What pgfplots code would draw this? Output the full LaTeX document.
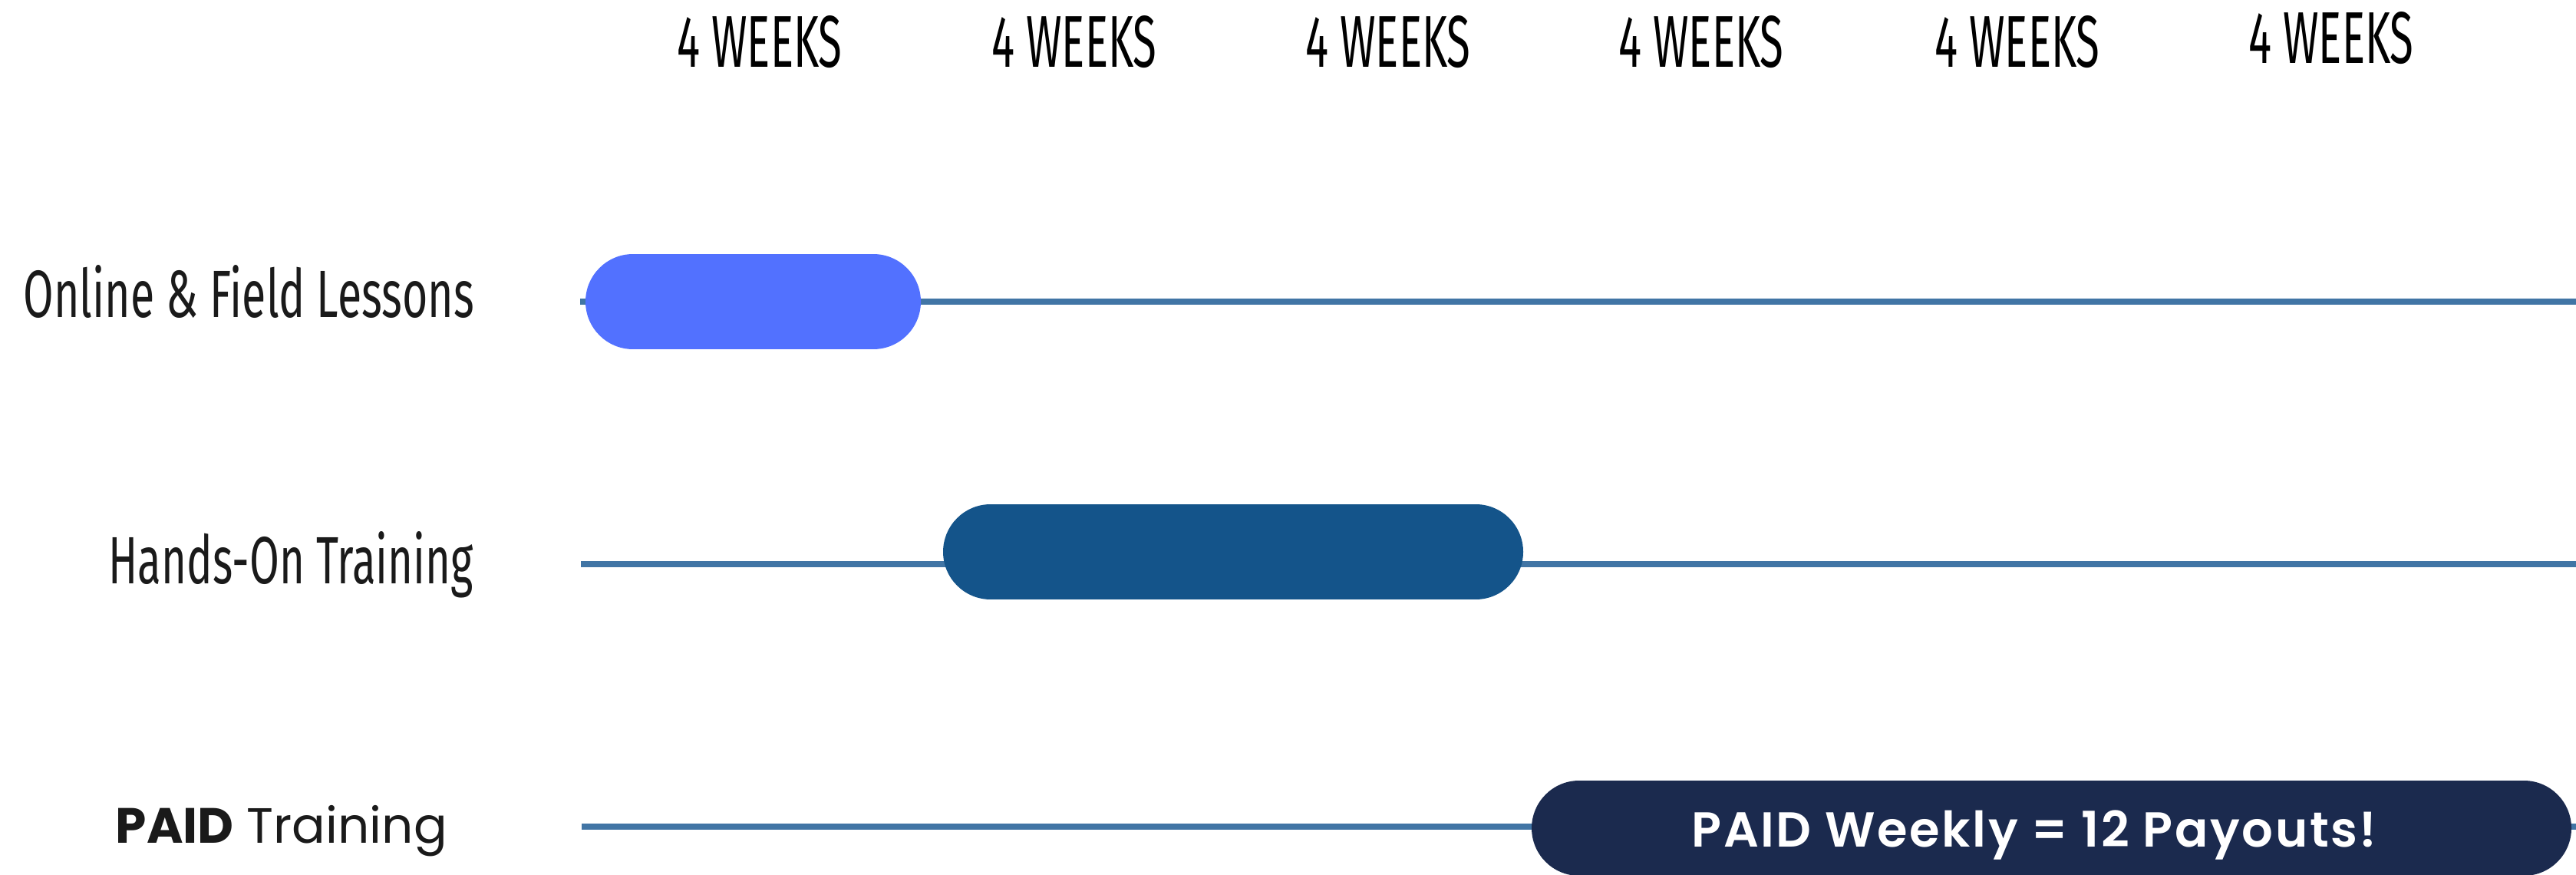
\documentclass[border=0pt]{standalone}
\usepackage{pgfplots}
\pgfplotsset{compat=1.18}
\usepackage{graphicx}
\usepackage{fontspec}
\setmainfont{Liberation Sans}
\newfontfamily\pop{Poppins}
\newfontfamily\popsb{Poppins SemiBold}[LetterSpace=4]
\newfontfamily\fl{Fira Sans}
\definecolor{linec}{HTML}{4175A5}
\definecolor{barA}{HTML}{5271FF}
\definecolor{barB}{HTML}{14548A}
\definecolor{barC}{HTML}{1B2A4E}
\definecolor{txt}{HTML}{1A1A1A}
\begin{document}
\begin{tikzpicture}
\begin{axis}[
  width=33.57cm, height=11.39cm, scale only axis,
  xmin=0, xmax=3357, ymin=0, ymax=1139, y dir=reverse,
  hide axis, clip=true]
\addplot[draw=none, forget plot] coordinates {(0,0) (3357,1139)};
% timeline lines
\addplot[linec, line width=0.08cm] coordinates {(756,393) (3357,393)};
\addplot[linec, line width=0.08cm] coordinates {(757,735) (3357,735)};
\addplot[linec, line width=0.08cm] coordinates {(758,1077) (3357,1077)};
% bars (stadium shapes)
\addplot[barA, line width=1.24cm, line cap=round] coordinates {(825,393) (1138,393)};
\addplot[barB, line width=1.24cm, line cap=round] coordinates {(1291,719) (1923,719)};
\addplot[barC, line width=1.24cm, line cap=round] coordinates {(2058,1079) (3289,1079)};
% headers
\node[anchor=base, inner sep=0] at (axis cs:990,87) {\resizebox{2.15cm}{0.67cm}{\fl 4 WEEKS}};
\node[anchor=base, inner sep=0] at (axis cs:1400,87) {\resizebox{2.15cm}{0.67cm}{\fl 4 WEEKS}};
\node[anchor=base, inner sep=0] at (axis cs:1809,87) {\resizebox{2.15cm}{0.67cm}{\fl 4 WEEKS}};
\node[anchor=base, inner sep=0] at (axis cs:2217,87) {\resizebox{2.15cm}{0.67cm}{\fl 4 WEEKS}};
\node[anchor=base, inner sep=0] at (axis cs:2629,87) {\resizebox{2.15cm}{0.67cm}{\fl 4 WEEKS}};
\node[anchor=base, inner sep=0] at (axis cs:3038,82) {\resizebox{2.15cm}{0.67cm}{\fl 4 WEEKS}};
% row labels
\node[anchor=base west, inner sep=0, text=txt] at (axis cs:30,413) {\resizebox{5.87cm}{0.68cm}{\fl Online \& Field Lessons}};
\node[anchor=base west, inner sep=0, text=txt] at (axis cs:141,760) {\resizebox{4.75cm}{0.68cm}{\fl Hands-On Training}};
\node[anchor=base west, inner sep=0, text=txt] at (axis cs:150,1098) {\resizebox{4.32cm}{!}{\pop\textbf{PAID} Training}};
\node[anchor=base, inner sep=0, text=white] at (axis cs:2651,1103) {\resizebox{8.93cm}{!}{\popsb PAID Weekly = 12 Payouts!}};
\end{axis}
\end{tikzpicture}
\end{document}
